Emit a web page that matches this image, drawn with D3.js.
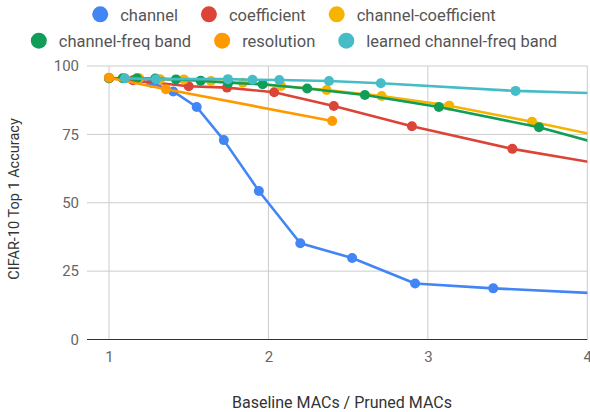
<!DOCTYPE html>
<html>
<head>
<meta charset="utf-8">
<script src="https://cdn.jsdelivr.net/npm/d3@7"></script>
<style>
  html, body { margin: 0; padding: 0; background: #fff; }
  svg { display: block; font-family: Roboto, "Noto Sans", sans-serif; }
</style>
</head>
<body>
<svg id="chart" width="590" height="412"></svg>
<script>
// Pruning ratio (baseline MACs / pruned MACs) vs. CIFAR-10 top-1 accuracy
const seriesNames = ["channel", "coefficient", "channel-coefficient",
  "channel-freq band", "resolution", "learned channel-freq band"];
const seriesColors = ["#4285F4", "#DB4437", "#F4B400", "#0F9D58", "#FF9900", "#46BDC6"];

const channel = [[1.0, 95.6], [1.266, 93.9], [1.403, 90.7], [1.55, 85.0], [1.72, 72.9],
  [1.94, 54.3], [2.20, 35.2], [2.525, 29.8], [2.92, 20.5], [3.41, 18.7], [4.5, 15.7]];
const coefficient = [[1.0, 95.5], [1.15, 94.8], [1.50, 92.6], [1.74, 92.1], [2.036, 90.4],
  [2.41, 85.4], [2.90, 78.0], [3.53, 69.7], [4.4, 61.1]];
const channelCoefficient = [[1.0, 95.6], [1.19, 95.5], [1.32, 95.2], [1.47, 95.1], [1.64, 94.5],
  [1.84, 93.9], [2.08, 92.7], [2.365, 91.2], [2.71, 89.0], [3.134, 85.5], [3.653, 79.6], [4.3, 71.7]];
const channelFreqBand = [[1.0, 95.5], [1.086, 95.5], [1.175, 95.5], [1.29, 95.4], [1.42, 95.1],
  [1.575, 94.6], [1.748, 93.9], [1.964, 93.3], [2.243, 91.8], [2.605, 89.4], [3.069, 85.0],
  [3.697, 77.6], [4.3, 68.0]];
const resolution = [[1.0, 95.7], [1.357, 91.5], [2.40, 79.9]];
const learnedChannelFreqBand = [[1.10, 95.5], [1.295, 95.2], [1.746, 95.2], [1.90, 95.0],
  [2.068, 94.9], [2.38, 94.5], [2.705, 93.7], [3.55, 90.9], [4.4, 89.5]];

const seriesData = [channel, coefficient, channelCoefficient, channelFreqBand,
  resolution, learnedChannelFreqBand];

const xTicks = [1, 2, 3, 4];
const yTicks = [0, 25, 50, 75, 100];
const xTitle = "Baseline MACs / Pruned MACs";
const yTitle = "CIFAR-10 Top 1 Accuracy";

const svg = d3.select("#chart");
const plot = { left: 87, right: 587.3, top: 66, bottom: 339.5 };

const x = d3.scaleLinear().domain([0.862, 4]).range([plot.left, plot.right]);
const y = d3.scaleLinear().domain([0, 100]).range([plot.bottom, plot.top]);

// gridlines
const grid = svg.append("g");
grid.selectAll("line.h").data(yTicks.filter(d => d !== 0)).join("line")
  .attr("x1", plot.left).attr("x2", plot.right)
  .attr("y1", d => y(d)).attr("y2", d => y(d))
  .attr("stroke", "#cccccc").attr("stroke-width", 1);
grid.selectAll("line.v").data(xTicks).join("line")
  .attr("x1", d => x(d)).attr("x2", d => x(d))
  .attr("y1", plot.top).attr("y2", plot.bottom)
  .attr("stroke", "#cccccc").attr("stroke-width", 1);

// y axis labels
const yAxis = d3.axisLeft(y).tickValues(yTicks).tickSize(0).tickPadding(8);
const yG = svg.append("g").attr("transform", `translate(${plot.left},0)`).call(yAxis);
yG.select(".domain").remove();
yG.selectAll("text").attr("font-size", 15).attr("fill", "#666").attr("font-family", "Roboto");

// x axis labels
const xAxis = d3.axisBottom(x).tickValues(xTicks).tickFormat(d3.format("d")).tickSize(0).tickPadding(12);
const xG = svg.append("g").attr("transform", `translate(0,${plot.bottom})`).call(xAxis);
xG.select(".domain").remove();
xG.selectAll("text").attr("font-size", 15).attr("fill", "#666").attr("font-family", "Roboto");

// baseline
svg.append("line")
  .attr("x1", plot.left).attr("x2", plot.right)
  .attr("y1", y(0)).attr("y2", y(0))
  .attr("stroke", "#333").attr("stroke-width", 1.2);

// series
svg.append("clipPath").attr("id", "plotClip").append("rect")
  .attr("x", plot.left).attr("y", plot.top - 10)
  .attr("width", plot.right - plot.left).attr("height", plot.bottom - plot.top + 10);

const line = d3.line().x(d => x(d[0])).y(d => y(d[1]));
const marks = svg.append("g").attr("clip-path", "url(#plotClip)");
seriesData.forEach((data, i) => {
  const g = marks.append("g");
  g.append("path").datum(data)
    .attr("d", line).attr("fill", "none")
    .attr("stroke", seriesColors[i]).attr("stroke-width", 2.6)
    .attr("stroke-linejoin", "round");
  g.selectAll("circle").data(data).join("circle")
    .attr("cx", d => x(d[0])).attr("cy", d => y(d[1]))
    .attr("r", 5).attr("fill", seriesColors[i]);
});

// axis titles
svg.append("text")
  .attr("x", 342).attr("y", 408)
  .attr("text-anchor", "middle").attr("font-size", 16).attr("fill", "#333")
  .text(xTitle);
svg.append("text")
  .attr("transform", "translate(19,199) rotate(-90)")
  .attr("text-anchor", "middle").attr("font-size", 14.5).attr("fill", "#333")
  .text(yTitle);

// legend: two centred rows
const legendRows = [[0, 1, 2], [3, 4, 5]];
const legendY = [14.3, 40.7];
const legendCenter = 294, legendGap = 23, swatchR = 8, textOffset = 20;
legendRows.forEach((row, ri) => {
  const g = svg.append("g");
  const items = row.map(i => {
    const t = g.append("text")
      .attr("font-size", 16.5).attr("fill", "#555")
      .attr("dominant-baseline", "central")
      .text(seriesNames[i]);
    return { i, t, w: t.node().getComputedTextLength() };
  });
  const total = d3.sum(items, d => 2 * swatchR + (textOffset - swatchR) + d.w) + legendGap * (items.length - 1);
  let cx = legendCenter - total / 2;
  items.forEach(it => {
    g.append("circle").attr("cx", cx + swatchR).attr("cy", legendY[ri])
      .attr("r", swatchR).attr("fill", seriesColors[it.i]);
    it.t.attr("x", cx + swatchR + textOffset).attr("y", legendY[ri] + 1);
    cx += swatchR + textOffset + it.w + legendGap;
  });
});
</script>
</body>
</html>
